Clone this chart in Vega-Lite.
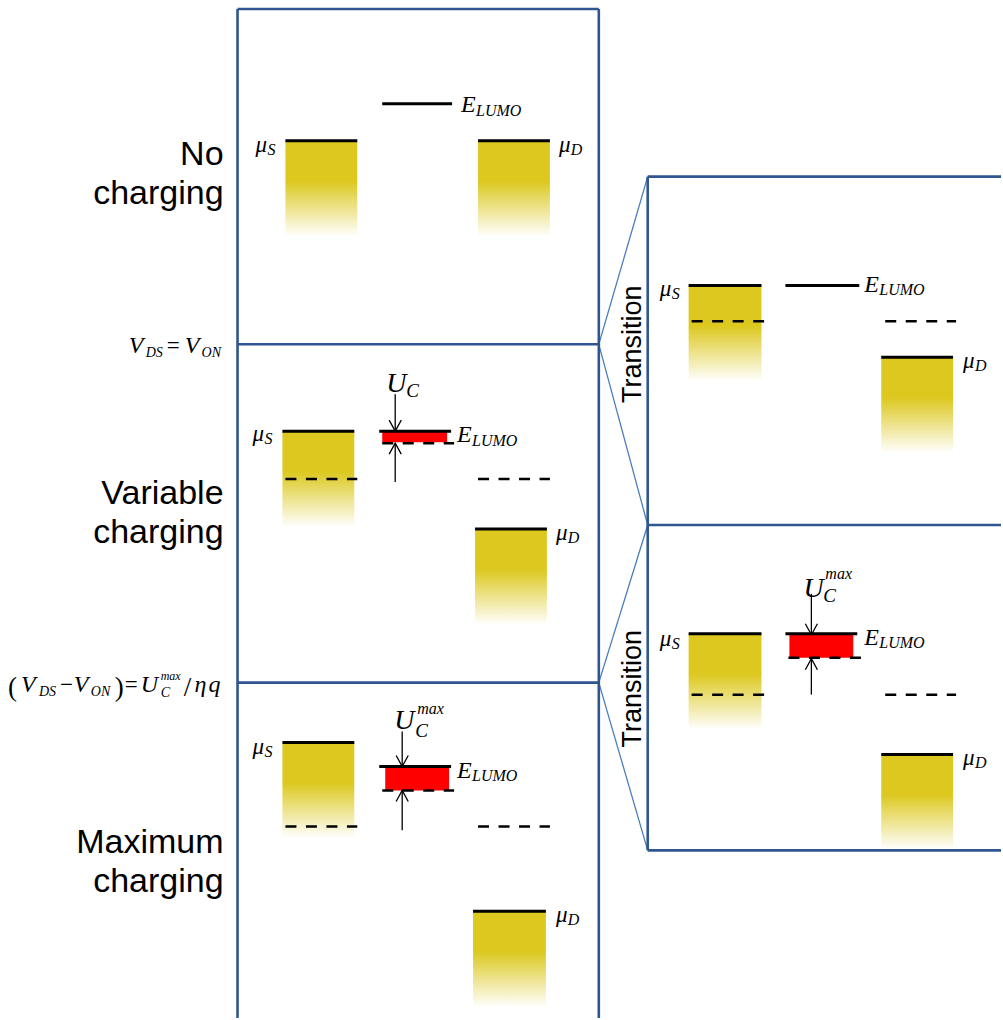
{
  "$schema": "https://vega.github.io/schema/vega-lite/v6.json",
  "width": 1003,
  "height": 1020,
  "autosize": {"type": "fit", "contains": "padding"},
  "padding": 0,
  "background": "white",
  "config": {"view": {"stroke": null}},
  "resolve": {"scale": {"size": "independent", "shape": "independent"}},
  "datasets": {
    "bands": [
      {"x": 286, "x2": 358, "y": 141, "y2": 237},
      {"x": 479, "x2": 551, "y": 141, "y2": 237},
      {"x": 283, "x2": 355, "y": 432, "y2": 528},
      {"x": 476, "x2": 548, "y": 530, "y2": 626},
      {"x": 283, "x2": 355, "y": 744, "y2": 840},
      {"x": 474, "x2": 547, "y": 913, "y2": 1009},
      {"x": 690, "x2": 763, "y": 286, "y2": 382},
      {"x": 883, "x2": 955, "y": 358, "y2": 454},
      {"x": 690, "x2": 763, "y": 635, "y2": 731},
      {"x": 883, "x2": 955, "y": 756, "y2": 851}
    ],
    "charge": [
      {"x": 383, "x2": 448, "y": 432, "y2": 443},
      {"x": 386, "x2": 450, "y": 768, "y2": 792},
      {"x": 791, "x2": 855, "y": 635, "y2": 659}
    ],
    "levels": [
      {"x": 286, "x2": 358, "y": 141},
      {"x": 479, "x2": 551, "y": 141},
      {"x": 283, "x2": 355, "y": 432},
      {"x": 476, "x2": 548, "y": 530},
      {"x": 283, "x2": 355, "y": 744},
      {"x": 474, "x2": 547, "y": 913},
      {"x": 690, "x2": 763, "y": 286},
      {"x": 883, "x2": 955, "y": 358},
      {"x": 690, "x2": 763, "y": 635},
      {"x": 883, "x2": 955, "y": 756},
      {"x": 383, "x2": 453, "y": 104},
      {"x": 380, "x2": 452, "y": 432},
      {"x": 380, "x2": 452, "y": 768},
      {"x": 787, "x2": 861, "y": 286},
      {"x": 787, "x2": 859, "y": 635}
    ],
    "dashed": [
      {"x": 286, "x2": 358, "y": 480},
      {"x": 479, "x2": 551, "y": 480},
      {"x": 383, "x2": 455, "y": 444},
      {"x": 286, "x2": 358, "y": 828},
      {"x": 479, "x2": 551, "y": 828},
      {"x": 383, "x2": 455, "y": 792},
      {"x": 693, "x2": 766, "y": 322},
      {"x": 887, "x2": 958, "y": 322},
      {"x": 790, "x2": 863, "y": 659},
      {"x": 693, "x2": 766, "y": 696},
      {"x": 887, "x2": 958, "y": 696}
    ],
    "arrows": [
      {"x": 396, "y": 395, "y2": 432},
      {"x": 396, "y": 483, "y2": 444},
      {"x": 403, "y": 733, "y2": 768},
      {"x": 403, "y": 832, "y2": 792},
      {"x": 813, "y": 595, "y2": 636},
      {"x": 813, "y": 696, "y2": 660}
    ],
    "heads": [
      {"x": 396, "y": 432, "dir": "down"},
      {"x": 396, "y": 444, "dir": "up"},
      {"x": 403, "y": 768, "dir": "down"},
      {"x": 403, "y": 792, "dir": "up"},
      {"x": 813, "y": 636, "dir": "down"},
      {"x": 813, "y": 660, "dir": "up"}
    ],
    "frames": [
      {"x": 238, "y": 9, "x2": 600, "y2": 9},
      {"x": 238, "y": 9, "x2": 238, "y2": 1020},
      {"x": 600, "y": 9, "x2": 600, "y2": 1020},
      {"x": 238, "y": 345, "x2": 600, "y2": 345},
      {"x": 238, "y": 684, "x2": 600, "y2": 684},
      {"x": 649, "y": 177, "x2": 1003, "y2": 177},
      {"x": 649, "y": 177, "x2": 649, "y2": 852},
      {"x": 649, "y": 526, "x2": 1003, "y2": 526},
      {"x": 649, "y": 852, "x2": 1003, "y2": 852}
    ],
    "connectors": [
      {"x": 600, "y": 345, "x2": 649, "y2": 177},
      {"x": 600, "y": 345, "x2": 649, "y2": 526},
      {"x": 600, "y": 684, "x2": 649, "y2": 526},
      {"x": 600, "y": 684, "x2": 649, "y2": 852}
    ],
    "symbols": [
      {"x": 256, "y": 152, "t": "μ", "role": "mu"},
      {"x": 268, "y": 155, "t": "S", "role": "sub"},
      {"x": 560, "y": 152, "t": "μ", "role": "mu"},
      {"x": 572, "y": 155, "t": "D", "role": "sub"},
      {"x": 462, "y": 112, "t": "E", "role": "E"},
      {"x": 477, "y": 116, "t": "LUMO", "role": "sub"},

      {"x": 253, "y": 442, "t": "μ", "role": "mu"},
      {"x": 265, "y": 445, "t": "S", "role": "sub"},
      {"x": 557, "y": 541, "t": "μ", "role": "mu"},
      {"x": 569, "y": 544, "t": "D", "role": "sub"},
      {"x": 458, "y": 443, "t": "E", "role": "E"},
      {"x": 473, "y": 447, "t": "LUMO", "role": "sub"},
      {"x": 387, "y": 393, "t": "U", "role": "U"},
      {"x": 407, "y": 398, "t": "C", "role": "Usub"},

      {"x": 253, "y": 755, "t": "μ", "role": "mu"},
      {"x": 265, "y": 758, "t": "S", "role": "sub"},
      {"x": 557, "y": 924, "t": "μ", "role": "mu"},
      {"x": 569, "y": 927, "t": "D", "role": "sub"},
      {"x": 458, "y": 780, "t": "E", "role": "E"},
      {"x": 473, "y": 783, "t": "LUMO", "role": "sub"},
      {"x": 395, "y": 730, "t": "U", "role": "U"},
      {"x": 416, "y": 738, "t": "C", "role": "Usub"},
      {"x": 418, "y": 715, "t": "max", "role": "sup"},

      {"x": 661, "y": 297, "t": "μ", "role": "mu"},
      {"x": 673, "y": 300, "t": "S", "role": "sub"},
      {"x": 965, "y": 369, "t": "μ", "role": "mu"},
      {"x": 977, "y": 372, "t": "D", "role": "sub"},
      {"x": 866, "y": 293, "t": "E", "role": "E"},
      {"x": 881, "y": 296, "t": "LUMO", "role": "sub"},

      {"x": 661, "y": 647, "t": "μ", "role": "mu"},
      {"x": 673, "y": 650, "t": "S", "role": "sub"},
      {"x": 965, "y": 767, "t": "μ", "role": "mu"},
      {"x": 977, "y": 770, "t": "D", "role": "sub"},
      {"x": 866, "y": 646, "t": "E", "role": "E"},
      {"x": 881, "y": 649, "t": "LUMO", "role": "sub"},
      {"x": 805, "y": 598, "t": "U", "role": "U"},
      {"x": 825, "y": 603, "t": "C", "role": "Usub"},
      {"x": 827, "y": 580, "t": "max", "role": "sup"},

      {"x": 129, "y": 354, "t": "V", "role": "V"},
      {"x": 146, "y": 358, "t": "DS", "role": "vsub"},
      {"x": 185, "y": 354, "t": "V", "role": "V"},
      {"x": 202, "y": 358, "t": "ON", "role": "vsub"},

      {"x": 21, "y": 693, "t": "V", "role": "V"},
      {"x": 39, "y": 697, "t": "DS", "role": "vsub"},
      {"x": 74, "y": 693, "t": "V", "role": "V"},
      {"x": 91, "y": 697, "t": "ON", "role": "vsub"},
      {"x": 141, "y": 693, "t": "U", "role": "V"},
      {"x": 161, "y": 698, "t": "C", "role": "vsub"},
      {"x": 161, "y": 681, "t": "max", "role": "vsup"},
      {"x": 195, "y": 693, "t": "η", "role": "V"},
      {"x": 209, "y": 693, "t": "q", "role": "V"}
    ],
    "operators": [
      {"x": 167, "y": 354, "t": "=", "role": "op"},
      {"x": 8, "y": 697, "t": "(", "role": "paren"},
      {"x": 60, "y": 693, "t": "−", "role": "op"},
      {"x": 115, "y": 697, "t": ")", "role": "paren"},
      {"x": 125, "y": 693, "t": "=", "role": "op"},
      {"x": 184, "y": 697, "t": "/", "role": "paren"}
    ],
    "captions": [
      {"x": 224, "y": 165, "t": "No"},
      {"x": 224, "y": 204, "t": "charging"},
      {"x": 224, "y": 505, "t": "Variable"},
      {"x": 224, "y": 544, "t": "charging"},
      {"x": 224, "y": 855, "t": "Maximum"},
      {"x": 224, "y": 894, "t": "charging"}
    ],
    "transitions": [
      {"x": 634, "y": 345, "t": "Transition"},
      {"x": 634, "y": 690, "t": "Transition"}
    ]
  },
  "encoding": {
    "x": {"field": "x", "type": "quantitative", "scale": {"domain": [0, 1003], "nice": false, "zero": false}, "axis": null},
    "y": {"field": "y", "type": "quantitative", "scale": {"domain": [0, 1020], "nice": false, "zero": false, "reverse": true}, "axis": null}
  },
  "layer": [
    {
      "data": {"name": "bands"},
      "mark": {
        "type": "rect",
        "strokeWidth": 0,
        "fill": {
          "gradient": "linear", "x1": 0, "y1": 0, "x2": 0, "y2": 1,
          "stops": [
            {"offset": 0, "color": "#DCC81E"},
            {"offset": 0.42, "color": "#DCC81E"},
            {"offset": 1, "color": "#FFFFFF"}
          ]
        }
      },
      "encoding": {"x2": {"field": "x2"}, "y2": {"field": "y2"}}
    },
    {
      "data": {"name": "charge"},
      "mark": {"type": "rect", "fill": "#FF0000", "strokeWidth": 0},
      "encoding": {"x2": {"field": "x2"}, "y2": {"field": "y2"}}
    },
    {
      "data": {"name": "levels"},
      "mark": {"type": "rule", "color": "#000000", "strokeWidth": 3},
      "encoding": {"x2": {"field": "x2"}}
    },
    {
      "data": {"name": "dashed"},
      "mark": {"type": "rule", "color": "#000000", "strokeWidth": 2.5, "strokeDash": [11, 9.5]},
      "encoding": {"x2": {"field": "x2"}}
    },
    {
      "data": {"name": "arrows"},
      "mark": {"type": "rule", "color": "#000000", "strokeWidth": 1.3},
      "encoding": {"y2": {"field": "y2"}}
    },
    {
      "data": {"name": "heads"},
      "mark": {"type": "point", "filled": false, "stroke": "#000000", "strokeWidth": 1.3, "size": 484, "opacity": 1},
      "encoding": {
        "shape": {
          "field": "dir", "type": "nominal",
          "scale": {"domain": ["down", "up"], "range": ["M-0.55,-1L0,0L0.55,-1", "M-0.55,1L0,0L0.55,1"]},
          "legend": null
        }
      }
    },
    {
      "data": {"name": "connectors"},
      "mark": {"type": "rule", "color": "#4A7EBB", "strokeWidth": 1.3},
      "encoding": {"x2": {"field": "x2"}, "y2": {"field": "y2"}}
    },
    {
      "data": {"name": "frames"},
      "mark": {"type": "rule", "color": "#2F5690", "strokeWidth": 2.6},
      "encoding": {"x2": {"field": "x2"}, "y2": {"field": "y2"}}
    },
    {
      "data": {"name": "symbols"},
      "mark": {"type": "text", "font": "Liberation Serif", "fontStyle": "italic", "align": "left", "baseline": "alphabetic", "color": "#000000"},
      "encoding": {
        "text": {"field": "t", "type": "nominal"},
        "size": {
          "field": "role", "type": "ordinal",
          "scale": {"type": "ordinal", "domain": ["mu", "sub", "E", "U", "Usub", "sup", "V", "vsub", "vsup"], "range": [23, 16, 24, 28, 19, 16, 24, 14, 12]},
          "legend": null
        }
      }
    },
    {
      "data": {"name": "operators"},
      "mark": {"type": "text", "font": "Liberation Serif", "align": "left", "baseline": "alphabetic", "color": "#000000"},
      "encoding": {
        "text": {"field": "t", "type": "nominal"},
        "size": {
          "field": "role", "type": "ordinal",
          "scale": {"type": "ordinal", "domain": ["op", "paren"], "range": [23, 27]},
          "legend": null
        }
      }
    },
    {
      "data": {"name": "captions"},
      "mark": {"type": "text", "font": "Liberation Sans", "fontSize": 34, "align": "right", "baseline": "alphabetic", "color": "#000000"},
      "encoding": {"text": {"field": "t", "type": "nominal"}}
    },
    {
      "data": {"name": "transitions"},
      "mark": {"type": "text", "font": "Liberation Sans", "fontSize": 27, "angle": 270, "align": "center", "baseline": "middle", "color": "#000000"},
      "encoding": {"text": {"field": "t", "type": "nominal"}}
    }
  ]
}
